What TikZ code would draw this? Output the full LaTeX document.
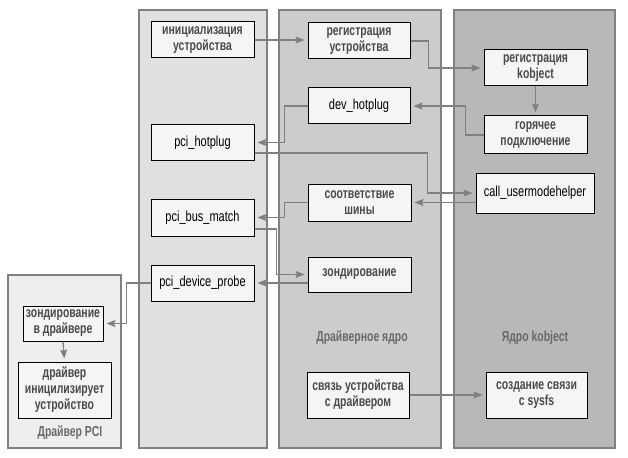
\documentclass[tikz,border=0pt]{standalone}
\usepackage{fontspec}
\setmainfont{Liberation Sans}
\newfontfamily\rufont{Liberation Sans}[FakeStretch=0.72]
\newfontfamily\enfont{Liberation Sans}[FakeStretch=0.76]
\usetikzlibrary{arrows.meta,calc}
\definecolor{pA}{HTML}{E0E0E0}
\definecolor{pB}{HTML}{CCCCCC}
\definecolor{pC}{HTML}{B8B8B8}
\definecolor{pD}{HTML}{EEEEEE}
\definecolor{pborder}{HTML}{808080}
\definecolor{boxfill}{HTML}{F5F5F5}
\definecolor{rutext}{HTML}{4A4A4A}
\definecolor{lbltext}{HTML}{6A6A6A}
\definecolor{arrcol}{HTML}{808080}
\tikzset{
  panel/.style={draw=pborder, line width=1.2pt},
  rubox/.style={draw=black, fill=boxfill, line width=1pt, align=center, inner sep=1pt,
     font=\rufont\bfseries\fontsize{14.5}{16}\selectfont, text=rutext},
  enbox/.style={draw=black, fill=boxfill, line width=1pt, align=center, inner sep=1pt,
     font=\enfont\fontsize{14.5}{16}\selectfont, text=black},
  plabel/.style={font=\rufont\bfseries\fontsize{14.5}{16}\selectfont, text=lbltext},
  arr/.style={draw=arrcol, line width=1.3pt, shorten >=3pt,
     -{Stealth[length=9pt,width=7pt,inset=1.5pt]}}
}
\begin{document}
\begin{tikzpicture}[x=1pt,y=-1pt]
\useasboundingbox (0,0) rectangle (628,457);
% panels
\draw[panel, fill=pD] (8,275) rectangle (121,448);
\draw[panel, fill=pA] (139,10) rectangle (267,448);
\draw[panel, fill=pB] (279,10) rectangle (441,448);
\draw[panel, fill=pC] (454,10) rectangle (615,448);
% panel labels
\node[plabel] (lpci) at (70,433) {Драйвер PCI};
\node[plabel] (ldrv) at (362,338) {Драйверное ядро};
\node[plabel] (lkob) at (535,338) {Ядро kobject};
% column 1
\node[rubox, minimum width=103pt, minimum height=36pt] (init) at (202.5,40) {инициализация\\устройства};
\node[enbox, minimum width=103pt, minimum height=35pt] (hotplugP) at (202.5,142.5) {pci\_hotplug};
\node[enbox, minimum width=103pt, minimum height=37pt] (busmatch) at (202.5,217.5) {pci\_bus\_match};
\node[enbox, minimum width=103pt, minimum height=36pt] (devprobe) at (202.5,283) {pci\_device\_probe};
% column 2
\node[rubox, minimum width=102pt, minimum height=36pt] (regdev) at (359,41) {регистрация\\устройства};
\node[enbox, minimum width=102pt, minimum height=36pt] (devhot) at (359,106) {dev\_hotplug};
\node[rubox, minimum width=103pt, minimum height=37pt] (busmatchB) at (359.5,202.5) {соответствие\\шины};
\node[rubox, minimum width=103pt, minimum height=35pt] (probeB) at (359.5,274.5) {зондирование};
\node[rubox, minimum width=102pt, minimum height=46pt] (bind) at (358,395) {связь устройства\\с драйвером};
% column 3
\node[rubox, minimum width=103pt, minimum height=36pt] (regkobj) at (535.5,68) {регистрация\\kobject};
\node[rubox, minimum width=103pt, minimum height=38pt] (hotk) at (535.5,135) {горячее\\подключение};
\node[enbox, minimum width=118pt, minimum height=40pt] (callu) at (535,193) {call\_usermodehelper};
\node[rubox, minimum width=101pt, minimum height=46pt] (sysfs) at (536.5,395) {создание связи\\с sysfs};
% PCI driver
\node[rubox, minimum width=80pt, minimum height=35pt] (drvprobe) at (63,323.5) {зондирование\\в драйвере};
\node[rubox, minimum width=93pt, minimum height=56pt] (drvinit) at (64.5,390) {драйвер\\иницилизирует\\устройство};
% connectors
\draw[arr] (init.east) -- (init.east -| regdev.west);
\draw[arr] (regdev.east) -- ++(18,0) |- (regkobj.west);
\draw[arr] (regkobj.south) -- (hotk.north);
\draw[arr] (hotk.west) -- ++(-18,0) |- (devhot.east);
\draw[arr] (devhot.west) -- ++(-23,0) |- (hotplugP.east);
\draw[arr] ([yshift=-10.5pt]hotplugP.east) -| ([xshift=-48pt]callu.west) -- (callu.west);
\draw[arr] (callu.west |- busmatchB.east) -- (busmatchB.east);
\draw[arr] (busmatchB.west) -- ++(-23,0) |- (busmatch.east);
\draw[arr] ([yshift=-11.5pt]busmatch.east) -- ++(22,0) |- (probeB.west);
\draw[arr] (probeB.west |- devprobe.east) -- (devprobe.east);
\draw[arr] (devprobe.west) -- ++(-24,0) |- (drvprobe.east);
\draw[arr] (drvprobe.south) -- (drvinit.north);
\draw[arr] (bind.east) -- (sysfs.west);
\end{tikzpicture}
\end{document}
